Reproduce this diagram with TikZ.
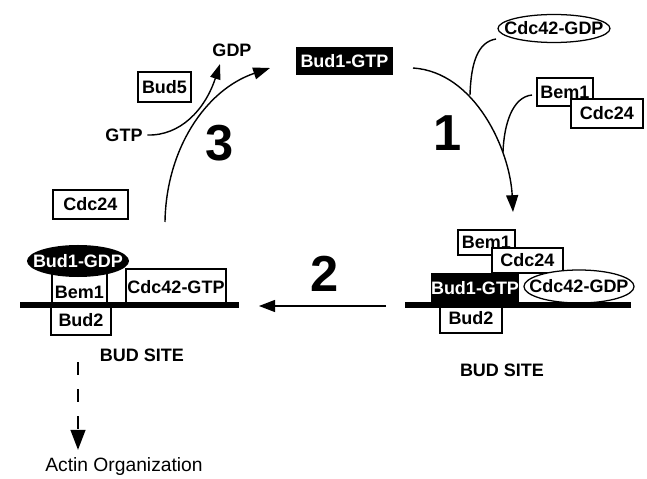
\documentclass[tikz,border=0pt]{standalone}
\usepackage{fontspec}
\setmainfont{Liberation Sans}
\usetikzlibrary{arrows.meta,shapes.geometric}
\newcommand\labfont{\bfseries\fontsize{12.8}{14}\selectfont}
\newcommand\squeeze[1]{\makebox[0pt]{#1}}

\begin{document}
\begin{tikzpicture}[x=0.025cm, y=-0.025cm,
  box/.style={draw, line width=0.9pt, fill=white, inner sep=0pt, font=\labfont},
  blk/.style={fill=black, text=white, inner sep=0pt, font=\labfont},
  oval/.style={ellipse, draw, line width=0.9pt, fill=white, inner sep=0pt, font=\labfont},
  blkoval/.style={ellipse, fill=black, text=white, inner sep=0pt, font=\labfont},
  num/.style={font=\bfseries\fontsize{36}{40}\selectfont},
  membrane/.style={line width=4.3pt},
  flow/.style={line width=1pt, -{Triangle[length=4.2mm,width=3mm]}},
  feed/.style={line width=1pt}]
  \useasboundingbox (0,0) rectangle (647,479);

  % step 3 / step 1 (top)
  \node[blk, minimum width=2.425cm, minimum height=0.7cm] (topgtp) at (344.5,61) {Bud1-GTP};
  \node[oval, minimum width=2.8cm, minimum height=0.7cm] (topgdp) at (554,28.5) {\squeeze{Cdc42-GDP}};
  \node[box, minimum width=1.4cm, minimum height=0.7cm] (topbem) at (565,92) {Bem1};
  \node[box, minimum width=1.8cm, minimum height=0.725cm] (topcdc) at (607,113.5) {Cdc24};
  \node[box, minimum width=1.325cm, minimum height=0.75cm] (bud5) at (164.5,87) {Bud5};
  \node[font=\labfont] (gdp) at (232,50) {GDP};
  \node[font=\labfont] (gtp) at (124,135) {GTP};
  \node[box, minimum width=1.875cm, minimum height=0.725cm] (lcdc) at (90.5,204.5) {Cdc24};

  % left bud site
  \node[box, minimum width=1.375cm, minimum height=0.925cm, text height=0.6cm, text depth=0pt] (lbem) at (79.5,286.5) {Bem1};
  \node[blkoval, minimum width=2.55cm, minimum height=0.8cm] (lgdp) at (78,261) {\squeeze{Bud1-GDP}};
  \node[box, minimum width=2.5cm, minimum height=0.9cm] (lgtp) at (176,287) {Cdc42-GTP};
  \node[box, minimum width=1.5cm, minimum height=0.75cm] (lbud2) at (81,320) {Bud2};
  \draw[membrane] (20,305) -- (239,305);
  \node[font=\labfont] (lsite) at (142,355) {BUD SITE};
  \node[font=\fontsize{13.7}{16}\selectfont] (actin) at (124,467) {Actin Organization};

  % right bud site
  \node[box, minimum width=1.55cm, minimum height=0.75cm] (rbud2) at (471,318) {Bud2};
  \node[box, minimum width=1.425cm, minimum height=0.625cm] (rbem) at (486.5,242.5) {Bem1};
  \node[box, minimum width=1.775cm, minimum height=0.625cm] (rcdc) at (527.5,260.5) {Cdc24};
  \node[blk, minimum width=2.2cm, minimum height=0.75cm] (rgtp) at (475,288) {Bud1-GTP};
  \node[oval, minimum width=2.75cm, minimum height=0.825cm] (rgdp) at (579,286.5) {\squeeze{Cdc42-GDP}};
  \draw[membrane] (405,305) -- (631,305);
  \node[font=\labfont] (rsite) at (502,370) {BUD SITE};

  % step numbers
  \node[num] (n3) at (220,143) {3};
  \node[num] (n1) at (448,133) {1};
  \node[num] (n2) at (325,274) {2};

  % arrows
  \coordinate (a3s) at (165,222);
  \coordinate (a3e) at (270,68);
  \coordinate (gdptip) at (220,64);
  \draw[flow] (a3s) .. controls (166,150) and (205,90) .. (a3e);
  \draw[flow, -{Triangle[length=3.8mm,width=2.6mm]}] (gtp.east) .. controls (180,136) and (205,110) .. (gdptip);

  \coordinate (a1s) at (413,68);
  \coordinate (a1e) at (513,212);
  \coordinate (j1) at (470,95);
  \coordinate (j2) at (503,152);
  \coordinate (gdpfoot) at (496,39);
  \coordinate (bemfoot) at (532,95);
  \draw[flow] (a1s) .. controls (475,72) and (510,150) .. (a1e);
  \draw[feed] (gdpfoot) .. controls (478,42) and (471,62) .. (j1);
  \draw[feed] (bemfoot) .. controls (512,97) and (504,125) .. (j2);

  \coordinate (a2s) at (386,306);
  \coordinate (a2e) at (259,306);
  \draw[line width=0.8pt, -{Triangle[length=4mm,width=3mm]}] (a2s) -- (a2e);

  \coordinate (ds) at (78,362);
  \coordinate (de) at (78,450);
  \draw[line width=2pt, dash pattern=on 0.325cm off 0.35cm, -{Triangle[length=5mm,width=3.6mm]}] (ds) -- (de);
\end{tikzpicture}
\end{document}
